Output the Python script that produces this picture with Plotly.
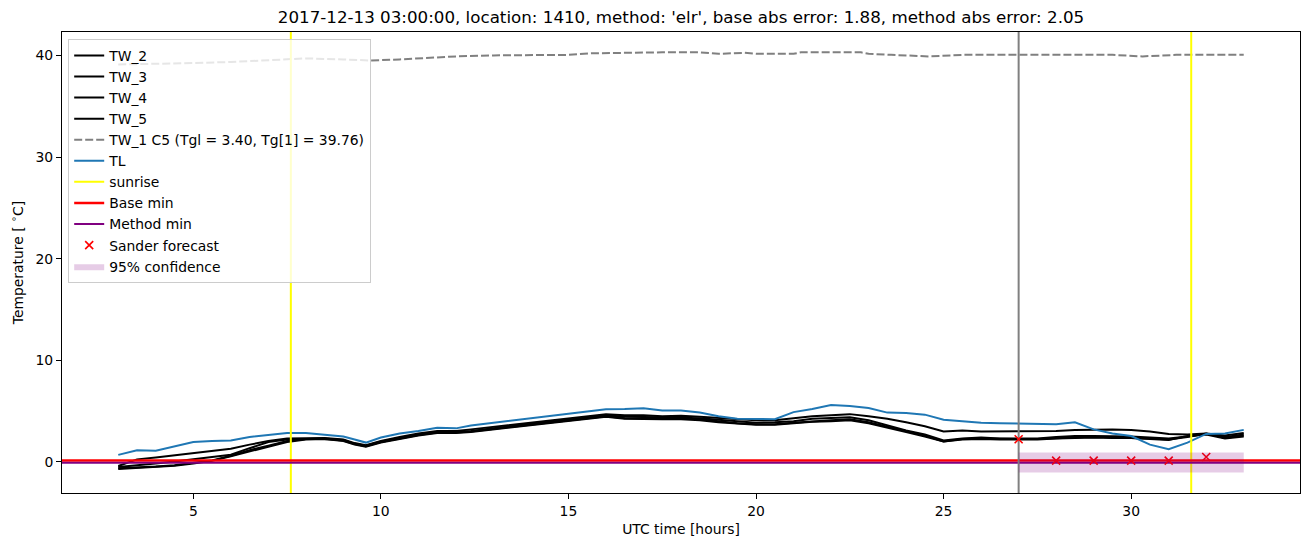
import plotly.graph_objects as go

# ---------------- data ----------------
hours = [3.0, 3.5, 4.0, 4.5, 5.0, 5.5, 6.0, 6.5, 7.0, 7.5, 8.0, 8.5, 9.0, 9.3, 9.6,
         10.0, 10.5, 11.0, 11.5, 12.0, 12.4, 15.5, 16.0, 16.5, 17.0, 17.5, 18.0,
         18.5, 19.0, 19.5, 20.0, 20.5, 21.0, 21.5, 22.0, 22.5, 23.0, 23.5, 24.0,
         24.5, 25.0, 25.5, 26.0, 26.5, 27.0, 27.5, 28.0, 28.5, 29.0, 29.5, 30.0,
         30.5, 31.0, 31.5, 32.0, 32.5, 33.0]

tw_2 = [-0.4, 0.25, 0.43, 0.65, 0.9, 1.1, 1.3, 1.7, 2.05, 2.3, 2.35, 2.35, 2.2, 1.85, 1.65,
        2.05, 2.45, 2.8, 3.05, 3.05, 3.2, 4.5, 4.7, 4.6, 4.6, 4.5, 4.55,
        4.45, 4.35, 4.2, 4.1, 4.1, 4.3, 4.5, 4.6, 4.7, 4.5, 4.25, 3.9,
        3.5, 3.0, 3.1, 3.0, 3.0, 3.0, 3.05, 3.05, 3.15, 3.2, 3.2, 3.15,
        3.0, 2.75, 2.7, 2.8, 2.6, 2.85]
tw_3 = [-0.5, -0.35, -0.15, 0.05, 0.27, 0.45, 0.7, 1.35, 1.95, 2.2, 2.25, 2.3, 2.15, 1.8, 1.6,
        2.0, 2.35, 2.7, 2.95, 2.95, 3.05, 4.4, 4.6, 4.45, 4.45, 4.4, 4.35,
        4.3, 4.15, 4.0, 3.85, 3.9, 4.0, 4.25, 4.35, 4.4, 4.1, 3.6, 3.1,
        2.7, 2.1, 2.3, 2.4, 2.3, 2.3, 2.3, 2.45, 2.55, 2.55, 2.55, 2.5,
        2.4, 2.3, 2.5, 2.75, 2.45, 2.7]
tw_4 = [-0.7, -0.6, -0.5, -0.38, -0.15, 0.1, 0.55, 1.05, 1.5, 1.95, 2.2, 2.25, 2.1, 1.75, 1.55,
        1.95, 2.3, 2.65, 2.9, 2.9, 3.0, 4.3, 4.5, 4.3, 4.3, 4.25, 4.25,
        4.2, 4.0, 3.8, 3.7, 3.7, 3.85, 4.0, 4.1, 4.2, 3.9, 3.45, 3.0,
        2.6, 2.0, 2.25, 2.3, 2.25, 2.25, 2.25, 2.35, 2.4, 2.45, 2.4, 2.4,
        2.3, 2.2, 2.45, 2.8, 2.35, 2.6]
tw_5 = [-0.62, -0.55, -0.45, -0.32, -0.1, 0.15, 0.6, 1.15, 1.6, 2.05, 2.25, 2.25, 2.05, 1.7, 1.5,
        1.9, 2.25, 2.6, 2.85, 2.85, 2.95, 4.2, 4.45, 4.25, 4.2, 4.2, 4.2,
        4.1, 3.9, 3.75, 3.65, 3.65, 3.8, 3.95, 4.0, 4.1, 3.8, 3.4, 2.95,
        2.5, 2.0, 2.2, 2.25, 2.2, 2.2, 2.2, 2.3, 2.35, 2.4, 2.35, 2.35,
        2.25, 2.15, 2.55, 2.7, 2.3, 2.5]
tl = [0.69, 1.15, 1.1, 1.5, 1.95, 2.05, 2.1, 2.45, 2.65, 2.85, 2.85, 2.7, 2.5, 2.2, 1.9,
      2.4, 2.8, 3.05, 3.35, 3.3, 3.58, 4.95, 5.18, 5.2, 5.28, 5.05, 5.05,
      4.85, 4.5, 4.25, 4.2, 4.2, 4.9, 5.2, 5.6, 5.5, 5.3, 4.85, 4.8,
      4.65, 4.15, 4.0, 3.85, 3.8, 3.77, 3.7, 3.7, 3.9, 3.2, 2.8, 2.55,
      1.7, 1.25, 1.9, 2.75, 2.8, 3.15]

tw1_hours = [3.0, 4.0, 5.0, 6.0, 7.0, 8.0, 9.0, 9.7, 10.5, 11.0, 12.0, 13.0, 14.0,
             15.0, 15.6, 16.7, 17.5, 18.5, 19.0, 19.7, 20.0, 21.0, 21.2, 22.8, 23.0,
             23.6, 24.6, 25.5, 26.5, 27.5, 28.5, 29.5, 30.3, 31.2, 32.0, 33.0]
tw_1 = [39.1, 39.15, 39.25, 39.35, 39.5, 39.7, 39.6, 39.5, 39.6, 39.7, 39.9, 40.0, 40.0,
        40.05, 40.2, 40.3, 40.3, 40.3, 40.15, 40.25, 40.15, 40.15, 40.3, 40.3, 40.15,
        40.05, 39.9, 40.05, 40.05, 40.05, 40.05, 40.05, 39.9, 40.05, 40.05, 40.05]

sunrise_hours = [7.6, 31.6]
forecast_start = 27.0
base_min = 0.13
method_min = -0.08
forecast_hours = [27, 28, 29, 30, 31, 32]
forecast_values = [2.23, 0.13, 0.13, 0.13, 0.13, 0.48]
conf_hours = [27.0, 33.0]
conf_low = -1.05
conf_high = 0.92

x_range = [1.5, 34.5]
y_range = [-3.06, 42.3]

title_text = ("2017-12-13 03:00:00, location: 1410, method: 'elr', "
              "base abs error: 1.88, method abs error: 2.05")

# ---------------- figure ----------------
FONT = "DejaVu Sans"
fig = go.Figure()

for name, vals in [("TW_2", tw_2), ("TW_3", tw_3), ("TW_4", tw_4), ("TW_5", tw_5)]:
    fig.add_trace(go.Scatter(x=hours, y=vals, mode="lines", name=name,
                             line=dict(color="black", width=2), legendgroup=name))

fig.add_trace(go.Scatter(x=tw1_hours, y=tw_1, mode="lines",
                         name="TW_1 C5 (Tgl = 3.40, Tg[1] = 39.76)",
                         line=dict(color="#808080", width=2, dash="8px,3px"),
                         legendgroup="tw1"))
fig.add_trace(go.Scatter(x=hours, y=tl, mode="lines", name="TL",
                         line=dict(color="#1f77b4", width=2), legendgroup="tl"))

sx, sy = [], []
for s in sunrise_hours:
    sx += [s, s, None]
    sy += [y_range[0], y_range[1], None]
fig.add_trace(go.Scatter(x=sx, y=sy, mode="lines", name="sunrise",
                         line=dict(color="yellow", width=2), legendgroup="sun"))

fig.add_trace(go.Scatter(x=x_range, y=[base_min, base_min], mode="lines", name="Base min",
                         line=dict(color="red", width=2.5), legendgroup="base"))
fig.add_trace(go.Scatter(x=x_range, y=[method_min, method_min], mode="lines",
                         name="Method min",
                         line=dict(color="purple", width=2), legendgroup="method"))

fig.add_trace(go.Scatter(x=[forecast_start, forecast_start], y=y_range, mode="lines",
                         showlegend=False, line=dict(color="gray", width=2),
                         hoverinfo="skip"))

fig.add_trace(go.Scatter(x=forecast_hours, y=forecast_values, mode="markers",
                         name="Sander forecast",
                         marker=dict(symbol="x-thin", size=8, color="red",
                                     line=dict(color="red", width=1.6)),
                         legendgroup="fc"))

fig.add_trace(go.Scatter(x=[conf_hours[0], conf_hours[1], conf_hours[1], conf_hours[0], conf_hours[0]],
                         y=[conf_low, conf_low, conf_high, conf_high, conf_low],
                         mode="lines", fill="toself", name="95% confidence",
                         fillcolor="rgba(128,0,128,0.2)", line=dict(width=0),
                         legendgroup="conf"))

axis_common = dict(showline=True, linecolor="black", linewidth=1, mirror=True,
                   ticks="outside", ticklen=5, tickcolor="black", showgrid=False,
                   zeroline=False, automargin=False,
                   tickfont=dict(family=FONT, size=13.9, color="black"))

fig.update_layout(
    width=1310, height=547,
    margin=dict(l=62, r=10, t=32, b=54),
    paper_bgcolor="white", plot_bgcolor="white",
    font=dict(family=FONT, color="black"),
    title=dict(text=title_text, x=0.5, xref="paper", xanchor="center",
               y=1 - 17 / 547, yanchor="middle",
               font=dict(family=FONT, size=16.7, color="black")),
    xaxis=dict(range=x_range, tickvals=[5, 10, 15, 20, 25, 30],
               title=dict(text="UTC time [hours]", standoff=6,
                          font=dict(family=FONT, size=13.9)),
               **axis_common),
    yaxis=dict(range=y_range, tickvals=[0, 10, 20, 30, 40],
               title=dict(text="Temperature [ <sup>∘</sup>C]", standoff=8,
                          font=dict(family=FONT, size=13.9)),
               **axis_common),
    legend=dict(x=0.005, y=0.985, xanchor="left", yanchor="top",
                bgcolor="rgba(255,255,255,0.8)", bordercolor="#cccccc", borderwidth=1,
                font=dict(family=FONT, size=13.9), tracegroupgap=0,
                itemwidth=30),
    showlegend=True,
)

fig.write_html("out.html", config={"displayModeBar": False},
               post_script="document.body.style.margin='0';")
